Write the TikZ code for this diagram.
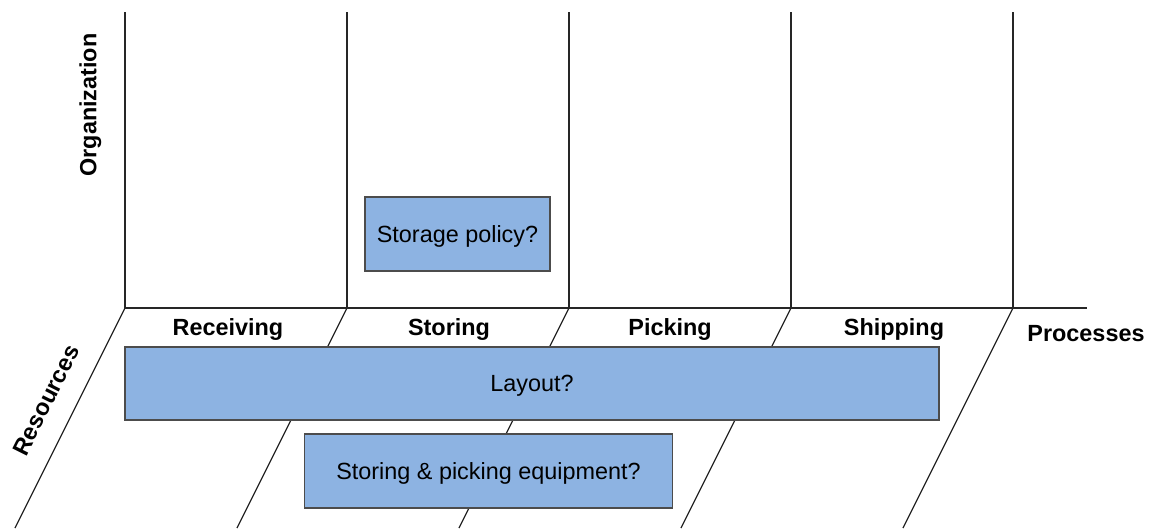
\documentclass[tikz,border=0pt]{standalone}
\usepackage{fontspec}
\setmainfont{Liberation Sans}
\begin{document}
\begin{tikzpicture}[x=1pt,y=-1pt,
  grid/.style={draw=black!85, line width=1.2pt},
  qbox/.style={draw=black!70, line width=1.4pt, fill=boxblue, inner sep=0pt,
               text depth=0pt, font=\fontsize{23.4}{27}\selectfont},
  head/.style={font=\fontsize{23.4}{27}\selectfont\bfseries, inner sep=0pt,
               text depth=0pt}]
\definecolor{boxblue}{RGB}{141,179,226}
\useasboundingbox (0,0) rectangle (1150,528);

% columns of the organization plane and slanted lanes of the resource plane
\foreach \x/\n in {125/a,347/b,569/c,791/d,1013/e}{
  \coordinate (top\n) at (\x,12);
  \coordinate (base\n) at (\x,308);
  \coordinate (foot\n) at (\x-110,528);
  \draw[grid] (top\n) -- (base\n);
  \draw[grid] (base\n) -- (foot\n);
}
\coordinate (axisend) at (1087,308);
\draw[grid] (basea) -- (axisend);

% question boxes
\node[qbox, minimum width=185pt, minimum height=74pt] (policy) at (457.5,234) {Storage policy?};
\node[qbox, minimum width=814pt, minimum height=73pt] (layout) at (532,383.5) {Layout?};
\node[qbox, minimum width=368pt, minimum height=74pt] (equip) at (488.5,471) {Storing \& picking equipment?};

% process labels
\node[head] (recv) at (228,327) {Receiving};
\node[head] (stor) at (449,327) {Storing};
\node[head] (pick) at (670,327) {Picking};
\node[head] (ship) at (894,327) {Shipping};
\node[head] (proc) at (1086,333) {Processes};

% axis labels
\node[head, rotate=90] (org) at (88,105) {Organization};
\node[head, rotate=63.4] (res) at (46,400) {Resources};
\end{tikzpicture}
\end{document}
